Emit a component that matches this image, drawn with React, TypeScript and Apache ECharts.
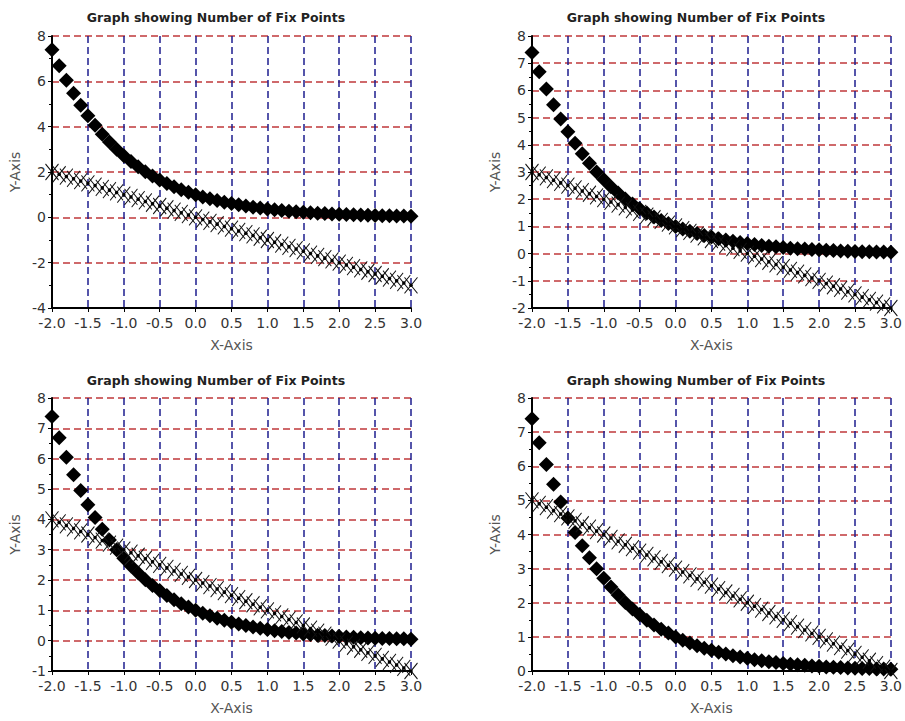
import React, { useEffect, useRef } from "react";
import * as echarts from "echarts";

const xValues = [
  -2.0, -1.9, -1.8, -1.7, -1.6, -1.5, -1.4, -1.3, -1.2, -1.1, -1.0, -0.9, -0.8, -0.7, -0.6, -0.5, -0.4,
  -0.3, -0.2, -0.1, 0.0, 0.1, 0.2, 0.3, 0.4, 0.5, 0.6, 0.7, 0.8, 0.9, 1.0, 1.1, 1.2, 1.3, 1.4, 1.5, 1.6,
  1.7, 1.8, 1.9, 2.0, 2.1, 2.2, 2.3, 2.4, 2.5, 2.6, 2.7, 2.8, 2.9, 3.0,
];

const curveValues = [
  7.39, 6.69, 6.05, 5.47, 4.95, 4.48, 4.06, 3.67, 3.32, 3.0, 2.72, 2.46, 2.23, 2.01, 1.82, 1.65, 1.49,
  1.35, 1.22, 1.11, 1.0, 0.9, 0.82, 0.74, 0.67, 0.61, 0.55, 0.5, 0.45, 0.41, 0.37, 0.33, 0.3, 0.27, 0.25,
  0.22, 0.2, 0.18, 0.17, 0.15, 0.14, 0.12, 0.11, 0.1, 0.09, 0.08, 0.07, 0.07, 0.06, 0.06, 0.05,
];

const lineA = [
  2.0, 1.9, 1.8, 1.7, 1.6, 1.5, 1.4, 1.3, 1.2, 1.1, 1.0, 0.9, 0.8, 0.7, 0.6, 0.5, 0.4, 0.3, 0.2, 0.1, 0.0,
  -0.1, -0.2, -0.3, -0.4, -0.5, -0.6, -0.7, -0.8, -0.9, -1.0, -1.1, -1.2, -1.3, -1.4, -1.5, -1.6, -1.7,
  -1.8, -1.9, -2.0, -2.1, -2.2, -2.3, -2.4, -2.5, -2.6, -2.7, -2.8, -2.9, -3.0,
];
const lineB = [
  3.0, 2.9, 2.8, 2.7, 2.6, 2.5, 2.4, 2.3, 2.2, 2.1, 2.0, 1.9, 1.8, 1.7, 1.6, 1.5, 1.4, 1.3, 1.2, 1.1, 1.0,
  0.9, 0.8, 0.7, 0.6, 0.5, 0.4, 0.3, 0.2, 0.1, 0.0, -0.1, -0.2, -0.3, -0.4, -0.5, -0.6, -0.7, -0.8, -0.9,
  -1.0, -1.1, -1.2, -1.3, -1.4, -1.5, -1.6, -1.7, -1.8, -1.9, -2.0,
];
const lineC = [
  4.0, 3.9, 3.8, 3.7, 3.6, 3.5, 3.4, 3.3, 3.2, 3.1, 3.0, 2.9, 2.8, 2.7, 2.6, 2.5, 2.4, 2.3, 2.2, 2.1, 2.0,
  1.9, 1.8, 1.7, 1.6, 1.5, 1.4, 1.3, 1.2, 1.1, 1.0, 0.9, 0.8, 0.7, 0.6, 0.5, 0.4, 0.3, 0.2, 0.1, 0.0,
  -0.1, -0.2, -0.3, -0.4, -0.5, -0.6, -0.7, -0.8, -0.9, -1.0,
];
const lineD = [
  5.0, 4.9, 4.8, 4.7, 4.6, 4.5, 4.4, 4.3, 4.2, 4.1, 4.0, 3.9, 3.8, 3.7, 3.6, 3.5, 3.4, 3.3, 3.2, 3.1, 3.0,
  2.9, 2.8, 2.7, 2.6, 2.5, 2.4, 2.3, 2.2, 2.1, 2.0, 1.9, 1.8, 1.7, 1.6, 1.5, 1.4, 1.3, 1.2, 1.1, 1.0,
  0.9, 0.8, 0.7, 0.6, 0.5, 0.4, 0.3, 0.2, 0.1, 0.0,
];

const panelLines = [lineA, lineB, lineC, lineD];
const yMins = [-4, -2, -1, 0];
const yIntervals = [2, 1, 1, 1];
const xMin = -2;
const xMax = 3;
const yMax = 8;
const chartTitle = "Graph showing Number of Fix Points";
const xName = "X-Axis";
const yName = "Y-Axis";

const FONT = "DejaVu Sans";
const RED = "#c0393b";
const BLUE = "#1e1e8e";

const grids = [
  { left: 52, top: 36, width: 359, height: 272 },
  { left: 532, top: 36, width: 359, height: 272 },
  { left: 52, top: 398, width: 359, height: 273 },
  { left: 532, top: 398, width: 359, height: 273 },
];

export default function App() {
  const ref = useRef<HTMLDivElement>(null);
  useEffect(() => {
    if (!ref.current) return;
    const chart = echarts.init(ref.current, null, { renderer: "svg" });
    const pair = (ys: number[]) => xValues.map((x, i) => [x, ys[i]]);
    const xAxis = grids.map((_, i) => ({
      type: "value",
      gridIndex: i,
      min: xMin,
      max: xMax,
      interval: 0.5,
      name: xName,
      nameLocation: "middle",
      nameGap: 30,
      nameTextStyle: { fontFamily: FONT, fontSize: 14, color: "#555" },
      axisLine: { onZero: false, lineStyle: { color: "#000", width: 2 } },
      axisTick: { show: true, length: 4, lineStyle: { color: "#000", width: 1 } },
      axisLabel: {
        fontFamily: FONT,
        fontSize: 14,
        color: "#333",
        margin: 8,
        formatter: (v: number) => v.toFixed(1),
      },
      splitLine: { show: true, lineStyle: { color: BLUE, width: 1.5, type: [7, 4] } },
    }));
    const yAxis = grids.map((_, i) => ({
      type: "value",
      gridIndex: i,
      min: yMins[i],
      max: yMax,
      interval: yIntervals[i],
      name: yName,
      nameLocation: "middle",
      nameGap: 30,
      nameTextStyle: { fontFamily: FONT, fontSize: 14, color: "#555" },
      axisLine: { show: true, onZero: false, lineStyle: { color: "#000", width: 2 } },
      axisTick: { show: true, length: 4, lineStyle: { color: "#000", width: 1 } },
      minorTick: { show: true, splitNumber: 2, length: 3, lineStyle: { color: "#000", width: 1 } },
      axisLabel: { fontFamily: FONT, fontSize: 14, color: "#333", margin: 6 },
      splitLine: { show: true, lineStyle: { color: RED, width: 1.5, type: [7, 4] } },
    }));
    const series: any[] = [];
    grids.forEach((_, i) => {
      series.push({
        type: "scatter",
        xAxisIndex: i,
        yAxisIndex: i,
        data: pair(curveValues),
        symbol: "diamond",
        symbolSize: 15,
        itemStyle: { color: "#000", opacity: 1 },
        z: 3,
      });
      series.push({
        type: "scatter",
        xAxisIndex: i,
        yAxisIndex: i,
        data: pair(panelLines[i]),
        symbol: "path://M0,0L10,12M10,0L0,12",
        symbolSize: [13, 16],
        itemStyle: { color: "none", borderColor: "#111", borderWidth: 1, opacity: 1 },
        z: 4,
      });
      series.push({
        type: "scatter",
        xAxisIndex: i,
        yAxisIndex: i,
        data: pair(panelLines[i]),
        symbol: "circle",
        symbolSize: 3.5,
        itemStyle: { color: "#000", opacity: 1 },
        z: 5,
      });
    });
    const titleCenters = [
      [216, 17],
      [696, 17],
      [216, 380],
      [696, 380],
    ];
    chart.setOption({
      animation: false,
      backgroundColor: "#fff",
      grid: grids.map((g) => ({ ...g, containLabel: false })),
      xAxis,
      yAxis,
      series,
      graphic: titleCenters.map(([x, y]) => ({
        type: "text",
        x,
        y,
        style: {
          text: chartTitle,
          fill: "#222",
          font: `bold 12.5px "${FONT}"`,
          textAlign: "center",
          textVerticalAlign: "middle",
        },
      })),
    });
    return () => chart.dispose();
  }, []);
  return (
    <div
      ref={ref}
      style={{ position: "absolute", left: 0, top: 0, width: 905, height: 721 }}
    />
  );
}
